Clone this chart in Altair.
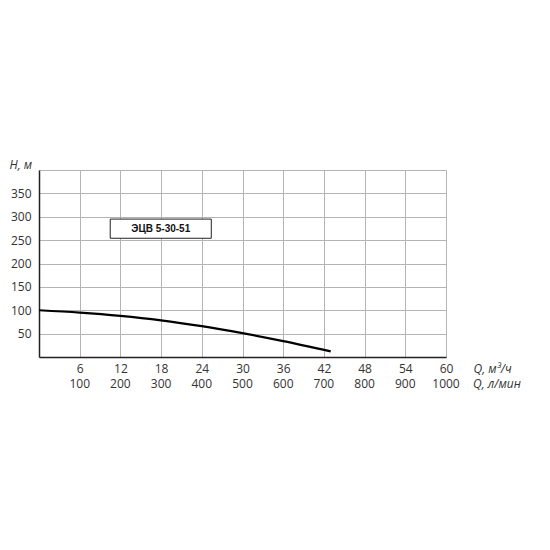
import altair as alt
import pandas as pd

# Performance curve
q_vals = [0, 6, 12, 18, 24, 30, 36, 43]
h_vals = [100, 95, 88, 78.5, 66, 51, 34, 12]

# Axis ticks
q_ticks = [6, 12, 18, 24, 30, 36, 42, 48, 54, 60]
lmin_ticks = ["100", "200", "300", "400", "500", "600", "700", "800", "900", "1000"]
h_ticks = [0, 50, 100, 150, 200, 250, 300, 350, 400]

# Label box
label_text = ["ЭЦВ 5-30-51"]
box_q = [10.5, 25.4]
box_h = [254, 295]

FONT = "Open Sans"
FS = 12
W, H = 407, 187

curve = pd.DataFrame({"Q": q_vals, "H": h_vals})
row2 = pd.DataFrame({"Q": q_ticks, "L": lmin_ticks})

x_scale = alt.Scale(domain=[0, 60], nice=False, zero=True)
y_scale = alt.Scale(domain=[0, 400], nice=False)

x_axis = alt.Axis(
    values=[0] + q_ticks,
    labelExpr="datum.value == 0 ? '' : datum.label",
    labelFont=FONT, labelFontSize=FS, labelColor="#333",
    labelBaseline="top", labelPadding=6, labelFlush=False, labelOverlap=False,
    ticks=False, tickSize=0,
    domainColor="#222", domainWidth=1.5,
    gridColor="#b4b4b4", gridWidth=1,
    title="Q, м³/ч", titleFont=FONT, titleFontSize=FS,
    titleFontStyle="italic", titleFontWeight="normal", titleColor="#333",
    titleAlign="left", titleBaseline="top", titleX=434, titleY=6,
)
y_axis = alt.Axis(
    values=h_ticks,
    labelExpr="datum.value == 0 || datum.value == 400 ? '' : datum.label",
    labelFont=FONT, labelFontSize=FS, labelColor="#333", labelPadding=8,
    labelOverlap=False, labelFlush=False,
    ticks=False, tickSize=0,
    domainColor="#222", domainWidth=1.5,
    gridColor="#b4b4b4", gridWidth=1,
    title="H, м", titleFont=FONT, titleFontSize=FS, titleFontStyle="italic",
    titleFontWeight="normal", titleColor="#333", titleAngle=0,
    titleAlign="left", titleBaseline="bottom", titleX=-30, titleY=1,
)

line = alt.Chart(curve).mark_line(color="black", strokeWidth=2.2, interpolate="monotone").encode(
    x=alt.X("Q:Q", scale=x_scale, axis=x_axis),
    y=alt.Y("H:Q", scale=y_scale, axis=y_axis),
)

# second row of x labels (л/мин)
row2_text = alt.Chart(row2).mark_text(font=FONT, fontSize=FS, color="#333",
                                      align="center", baseline="top").encode(
    x=alt.X("Q:Q", scale=x_scale, axis=x_axis),
    y=alt.value(H + 22),
    text="L:N",
)
row2_title = alt.Chart(pd.DataFrame({"t": ["Q, л/мин"]})).mark_text(
    font=FONT, fontSize=FS, fontStyle="italic", color="#333", align="left", baseline="top"
).encode(x=alt.value(434), y=alt.value(H + 22), text="t:N")

box_df = pd.DataFrame({"q1": [box_q[0]], "q2": [box_q[1]], "h1": [box_h[0]], "h2": [box_h[1]],
                       "qc": [(box_q[0] + box_q[1]) / 2], "hc": [(box_h[0] + box_h[1]) / 2],
                       "t": label_text})

box = alt.Chart(box_df).mark_rect(fill="white", stroke="#222", strokeWidth=1).encode(
    x=alt.X("q1:Q", scale=x_scale, axis=x_axis), x2="q2:Q",
    y=alt.Y("h1:Q", scale=y_scale, axis=y_axis), y2="h2:Q",
)
box_text = alt.Chart(box_df).mark_text(font="Liberation Sans", fontSize=10, fontWeight="bold",
                                       color="#111", align="center", baseline="middle").encode(
    x=alt.X("qc:Q", scale=x_scale, axis=x_axis), y=alt.Y("hc:Q", scale=y_scale, axis=y_axis),
    text="t:N",
)

chart = alt.layer(line, box, box_text, row2_text, row2_title).properties(
    width=W, height=H,
    autosize=alt.AutoSizeParams(type="none"),
    padding={"left": 31, "top": 162, "right": 95, "bottom": 180},
).configure_view(stroke=None).configure(background="white")

chart.save("out.html", embed_options={"renderer": "svg", "actions": False})
